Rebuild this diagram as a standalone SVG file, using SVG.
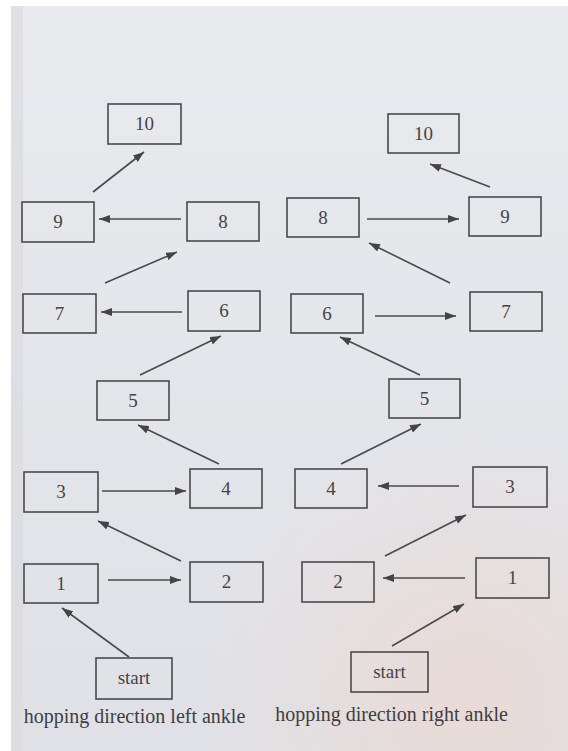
<svg xmlns="http://www.w3.org/2000/svg" width="568" height="751" viewBox="0 0 568 751">
<defs>
<style>
.box{fill:none;stroke:#4a4a4c;stroke-width:1.6}
.t{font-family:"Liberation Serif","Times New Roman",serif;font-size:19px;fill:#444446;text-anchor:middle}
.lab{font-family:"Liberation Serif","Times New Roman",serif;font-size:20px;fill:#3e3e40;text-anchor:middle}
.c{stroke:#4a4a4c;stroke-width:1.6;fill:none;marker-end:url(#ah)}
</style>
<marker id="ah" markerUnits="userSpaceOnUse" markerWidth="12" markerHeight="8" refX="11" refY="4" orient="auto">
<path d="M0,0 L11,4 L0,8 z" fill="#444446"/>
</marker>
<radialGradient id="warm" cx="470" cy="700" r="260" gradientUnits="userSpaceOnUse">
<stop offset="0" stop-color="#ead9d4" stop-opacity="0.9"/>
<stop offset="1" stop-color="#ead9d4" stop-opacity="0"/>
</radialGradient>
<linearGradient id="paper" x1="0" y1="0" x2="0" y2="1">
<stop offset="0" stop-color="#e9eaee"/>
<stop offset="1" stop-color="#e0e1e6"/>
</linearGradient>
</defs>
<rect width="568" height="751" fill="#ffffff"/>
<rect x="11" y="6" width="557" height="745" fill="url(#paper)"/>
<rect x="11" y="6" width="557" height="745" fill="url(#warm)"/>
<rect x="11" y="6" width="12" height="745" fill="#d8d9de" opacity="0.6"/>

<g id="connectors">
<line class="c" x1="93" y1="192" x2="144" y2="152"/>
<line class="c" x1="181" y1="219" x2="99" y2="219"/>
<line class="c" x1="105" y1="283" x2="177" y2="252"/>
<line class="c" x1="182" y1="312" x2="101" y2="312"/>
<line class="c" x1="140" y1="375" x2="221" y2="336"/>
<line class="c" x1="219" y1="464" x2="138" y2="425"/>
<line class="c" x1="102" y1="491" x2="186" y2="491"/>
<line class="c" x1="181" y1="561" x2="98" y2="521"/>
<line class="c" x1="108" y1="580" x2="181" y2="580"/>
<line class="c" x1="129" y1="657" x2="62" y2="608"/>

<line class="c" x1="490" y1="187" x2="430" y2="164"/>
<line class="c" x1="367" y1="219" x2="459" y2="219"/>
<line class="c" x1="450" y1="283" x2="369" y2="243"/>
<line class="c" x1="375" y1="316" x2="456" y2="316"/>
<line class="c" x1="420" y1="375" x2="340" y2="337"/>
<line class="c" x1="341" y1="464" x2="421" y2="424"/>
<line class="c" x1="459" y1="486" x2="378" y2="486"/>
<line class="c" x1="385" y1="556" x2="466" y2="515"/>
<line class="c" x1="465" y1="578" x2="383" y2="578"/>
<line class="c" x1="392" y1="646" x2="464" y2="604"/>
</g>

<g id="L10"><rect class="box" x="108" y="104" width="73" height="40"/><text class="t" x="144.5" y="130">10</text></g>
<g id="L9"><rect class="box" x="22" y="202" width="72" height="40"/><text class="t" x="58" y="228">9</text></g>
<g id="L8"><rect class="box" x="187" y="202" width="72" height="39"/><text class="t" x="223" y="228">8</text></g>
<g id="L7"><rect class="box" x="23" y="294" width="73" height="39"/><text class="t" x="59.5" y="320">7</text></g>
<g id="L6"><rect class="box" x="188" y="291" width="72" height="40"/><text class="t" x="224" y="317">6</text></g>
<g id="L5"><rect class="box" x="97" y="381" width="72" height="39"/><text class="t" x="133" y="407">5</text></g>
<g id="L3"><rect class="box" x="24" y="472" width="74" height="40"/><text class="t" x="61" y="498">3</text></g>
<g id="L4"><rect class="box" x="190" y="469" width="72" height="39"/><text class="t" x="226" y="495">4</text></g>
<g id="L1"><rect class="box" x="24" y="564" width="74" height="39"/><text class="t" x="61" y="590">1</text></g>
<g id="L2"><rect class="box" x="190" y="562" width="73" height="40"/><text class="t" x="226.5" y="588">2</text></g>
<g id="Lstart"><rect class="box" x="96" y="658" width="76" height="41"/><text class="t" x="134" y="684">start</text></g>

<g id="R10"><rect class="box" x="388" y="114" width="71" height="39"/><text class="t" x="423.5" y="140">10</text></g>
<g id="R8"><rect class="box" x="287" y="198" width="72" height="39"/><text class="t" x="323" y="224">8</text></g>
<g id="R9"><rect class="box" x="469" y="197" width="72" height="39"/><text class="t" x="505" y="223">9</text></g>
<g id="R6"><rect class="box" x="291" y="294" width="72" height="39"/><text class="t" x="327" y="320">6</text></g>
<g id="R7"><rect class="box" x="470" y="292" width="72" height="39"/><text class="t" x="506" y="318">7</text></g>
<g id="R5"><rect class="box" x="389" y="379" width="71" height="39"/><text class="t" x="424.5" y="405">5</text></g>
<g id="R4"><rect class="box" x="295" y="469" width="72" height="39"/><text class="t" x="331" y="495">4</text></g>
<g id="R3"><rect class="box" x="473" y="467" width="74" height="40"/><text class="t" x="510" y="493">3</text></g>
<g id="R2"><rect class="box" x="302" y="562" width="72" height="40"/><text class="t" x="338" y="588">2</text></g>
<g id="R1"><rect class="box" x="476" y="558" width="73" height="40"/><text class="t" x="512.5" y="584">1</text></g>
<g id="Rstart"><rect class="box" x="351" y="652" width="77" height="40"/><text class="t" x="389.5" y="678">start</text></g>

<text class="lab" x="134.5" y="723">hopping direction left ankle</text>
<text class="lab" x="391.5" y="721">hopping direction right ankle</text>
</svg>
